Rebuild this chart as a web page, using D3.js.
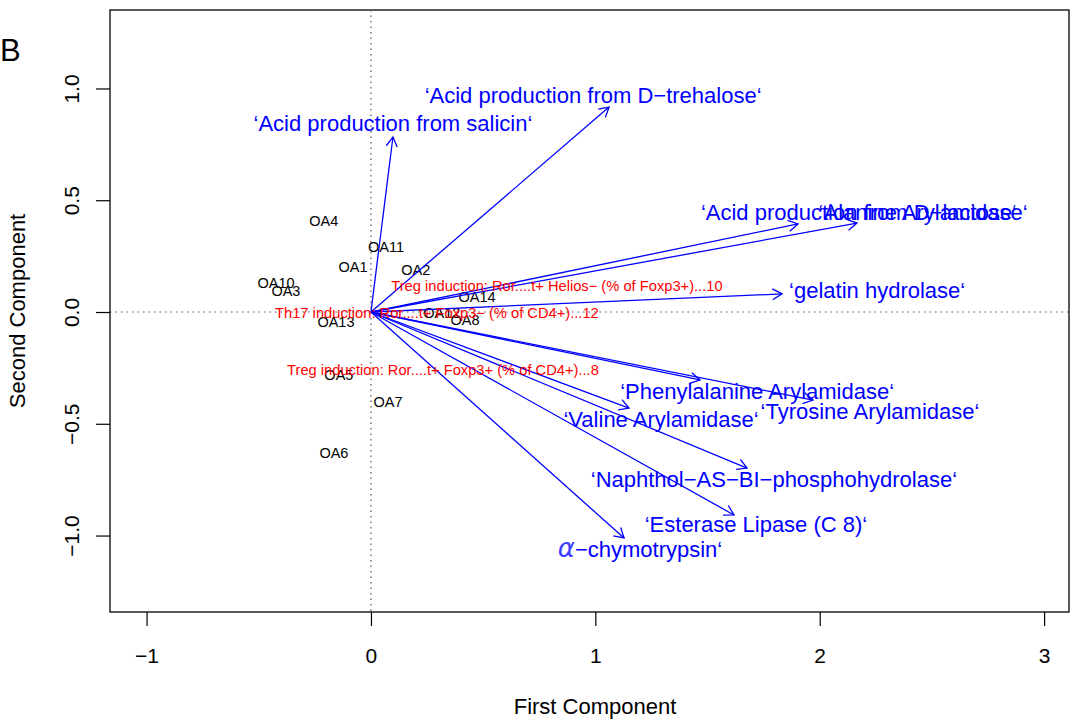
<!DOCTYPE html>
<html>
<head>
<meta charset="utf-8">
<script src="https://cdn.jsdelivr.net/npm/d3@7"></script>
<style>
  body { margin: 0; background: #fff; }
  svg { font-family: "Liberation Sans", Arial, Helvetica, sans-serif; }
</style>
</head>
<body>
<svg id="chart" width="1070" height="719"></svg>
<script>
// observations (scores)
const obsNames = ['OA4', 'OA11', 'OA1', 'OA2', 'OA10', 'OA3', 'OA14', 'OA12', 'OA8', 'OA13', 'OA5', 'OA7', 'OA6'];
const obsX = [-0.210, 0.067, -0.080, 0.200, -0.423, -0.379, 0.473, 0.316, 0.419, -0.156, -0.143, 0.076, -0.165];
const obsY = [0.407, 0.291, 0.201, 0.188, 0.130, 0.094, 0.067, -0.005, -0.036, -0.045, -0.282, -0.403, -0.631];

// variables drawn as arrows (loadings)
const varNames = [
  '‘Acid production from salicin‘',
  '‘Acid production from D−trehalose‘',
  '‘Acid production from D−lactose‘',
  '‘Alanine Arylamidase‘',
  '‘gelatin hydrolase‘',
  '‘Phenylalanine Arylamidase‘',
  '‘Tyrosine Arylamidase‘',
  '‘Valine Arylamidase‘',
  '‘Naphthol−AS−BI−phosphohydrolase‘',
  '‘Esterase Lipase (C 8)‘',
  'α−chymotrypsin‘'
];
const arrowX = [0.098, 1.061, 1.903, 2.166, 1.832, 1.467, 1.970, 1.150, 1.676, 1.618, 1.128];
const arrowY = [0.783, 0.917, 0.394, 0.398, 0.081, -0.304, -0.394, -0.430, -0.698, -0.908, -1.011];
const labelX = [0.098, 0.990, 2.175, 2.461, 2.256, 1.721, 2.224, 1.293, 1.796, 1.716, 1.199];
const labelY = [0.846, 0.971, 0.447, 0.447, 0.098, -0.353, -0.443, -0.479, -0.747, -0.949, -1.060];

// supplementary variables (red text only)
const suppNames = [
  'Treg induction: Ror....t+ Helios− (% of Foxp3+)...10',
  'Th17 induction: Ror....t+ Foxp3− (% of CD4+)...12',
  'Treg induction: Ror....t+ Foxp3+ (% of CD4+)...8'
];
const suppX = [0.829, 0.294, 0.321];
const suppY = [0.116, -0.004, -0.260];

const xTicks = [-1, 0, 1, 2, 3];
const yTicks = [-1.0, -0.5, 0.0, 0.5, 1.0];

const svg = d3.select('#chart');
const plot = { left: 110, right: 1069, top: 10, bottom: 612 };

const x = d3.scaleLinear().domain([-1.163, 3.111]).range([plot.left, plot.right]);
const y = d3.scaleLinear().domain([-1.342, 1.351]).range([plot.bottom, plot.top]);

const minus = s => s.replace('-', '−');

// axes
const xAxis = svg.append('g')
  .attr('transform', `translate(0,${plot.bottom})`)
  .call(d3.axisBottom(x).tickValues(xTicks).tickSize(14).tickPadding(22)
    .tickFormat(d => minus(d3.format('d')(d))));
xAxis.select('.domain').remove();
xAxis.selectAll('line').attr('stroke', '#000').attr('stroke-width', 1.2);
xAxis.selectAll('text').attr('font-size', 21).attr('fill', '#000')
  .attr('font-family', '"Liberation Sans", Arial, sans-serif');

const yAxis = svg.append('g')
  .attr('transform', `translate(${plot.left},0)`)
  .call(d3.axisLeft(y).tickValues(yTicks).tickSize(14)
    .tickFormat(d => minus(d3.format('.1f')(d))));
yAxis.select('.domain').remove();
yAxis.selectAll('line').attr('stroke', '#000').attr('stroke-width', 1.2);
yAxis.selectAll('text')
  .attr('font-size', 21).attr('fill', '#000')
  .attr('font-family', '"Liberation Sans", Arial, sans-serif')
  .attr('x', null).attr('dy', null)
  .attr('text-anchor', 'middle')
  .attr('transform', 'translate(-38,0) rotate(-90)')
  .attr('dy', '0.35em');

// box
svg.append('rect')
  .attr('x', plot.left).attr('y', plot.top)
  .attr('width', plot.right - plot.left).attr('height', plot.bottom - plot.top)
  .attr('fill', 'none').attr('stroke', '#000').attr('stroke-width', 1.3);

// dotted reference lines
svg.append('line')
  .attr('x1', plot.left).attr('x2', plot.right)
  .attr('y1', y(0)).attr('y2', y(0))
  .attr('stroke', '#555').attr('stroke-width', 1.2).attr('stroke-dasharray', '1.5,4');
svg.append('line')
  .attr('x1', x(0)).attr('x2', x(0))
  .attr('y1', plot.top).attr('y2', plot.bottom)
  .attr('stroke', '#555').attr('stroke-width', 1.2).attr('stroke-dasharray', '1.5,4');

// axis titles
svg.append('text')
  .attr('x', 595).attr('y', 714)
  .attr('text-anchor', 'middle').attr('font-size', 22)
  .text('First Component');
svg.append('text')
  .attr('transform', `translate(25,${(plot.top + plot.bottom) / 2}) rotate(-90)`)
  .attr('text-anchor', 'middle').attr('font-size', 22)
  .text('Second Component');
svg.append('text')
  .attr('x', 0).attr('y', 61)
  .attr('font-size', 31)
  .text('B');

// observation labels
svg.append('g').selectAll('text')
  .data(obsNames)
  .join('text')
  .attr('x', (d, i) => x(obsX[i]))
  .attr('y', (d, i) => y(obsY[i]))
  .attr('dy', '0.35em')
  .attr('text-anchor', 'middle')
  .attr('font-size', 14.5)
  .attr('fill', '#000')
  .text(d => d);

// arrows
const arrowG = svg.append('g').attr('stroke', '#0000ff').attr('stroke-width', 1.3).attr('fill', 'none');
const head = 11, ang = Math.PI / 6;
varNames.forEach((name, i) => {
  const x0 = x(0), y0 = y(0), x1 = x(arrowX[i]), y1 = y(arrowY[i]);
  const th = Math.atan2(y1 - y0, x1 - x0);
  arrowG.append('line').attr('x1', x0).attr('y1', y0).attr('x2', x1).attr('y2', y1);
  const p = d3.path();
  p.moveTo(x1 - head * Math.cos(th - ang), y1 - head * Math.sin(th - ang));
  p.lineTo(x1, y1);
  p.lineTo(x1 - head * Math.cos(th + ang), y1 - head * Math.sin(th + ang));
  arrowG.append('path').attr('d', p.toString());
});

// arrow labels
const labG = svg.append('g');
varNames.forEach((name, i) => {
  const t = labG.append('text')
    .attr('x', x(labelX[i]))
    .attr('y', y(labelY[i]))
    .attr('dy', '0.35em')
    .attr('text-anchor', 'middle')
    .attr('font-size', 22)
    .attr('fill', '#0000ff');
  if (name.startsWith('α')) {
    t.append('tspan').attr('font-style', 'italic').attr('font-size', 26)
      .attr('font-family', '"DejaVu Sans", sans-serif').attr('fill', '#3c3cff').text('α');
    t.append('tspan').text(name.slice(1));
  } else {
    t.text(name);
  }
});

// supplementary red labels
svg.append('g').selectAll('text')
  .data(suppNames)
  .join('text')
  .attr('x', (d, i) => x(suppX[i]))
  .attr('y', (d, i) => y(suppY[i]))
  .attr('dy', '0.35em')
  .attr('text-anchor', 'middle')
  .attr('font-size', 14.7)
  .attr('fill', '#ff0000')
  .text(d => d);
</script>
</body>
</html>
